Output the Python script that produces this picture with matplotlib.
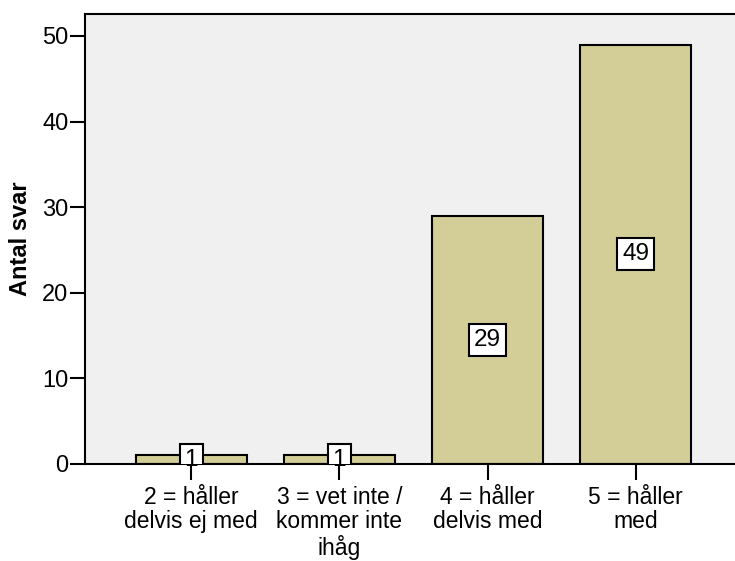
import matplotlib
matplotlib.use('Agg')
import matplotlib.pyplot as plt

categories = ["2 = håller\ndelvis ej med", "3 = vet inte /\nkommer inte\nihåg",
              "4 = håller\ndelvis med", "5 = håller\nmed"]
counts = [1, 1, 29, 49]
yticks = [0, 10, 20, 30, 40, 50]

plt.rcParams['font.family'] = ['Liberation Sans', 'DejaVu Sans']
fs = 17

fig = plt.figure(figsize=(7.35, 5.61), dpi=100)
ax = fig.add_axes([85 / 735, 97 / 561, 650 / 735, 450 / 561])
ax.set_facecolor('#F0F0F0')

x = list(range(len(categories)))
ax.bar(x, counts, width=0.75, color='#D3CE97', edgecolor='black', linewidth=1.5, zorder=2)

# count labels in white boxes, box clipped at the axis
for xi, v in zip(x, counts):
    t = ax.text(xi, v / 2, str(v), ha='center', va='center', fontsize=17.5, zorder=3,
                bbox=dict(boxstyle='square,pad=0.2', facecolor='white', edgecolor='black', linewidth=1.5))
    t.get_bbox_patch().set_clip_on(True)

ax.set_xlim(-0.716, 3.669)
ax.set_ylim(0, 52.57)
ax.set_xticks(x)
ax.set_xticklabels(categories, fontsize=16.5, linespacing=1.06)
ax.set_yticks(yticks)
ax.tick_params(axis='y', labelsize=fs, length=11, width=1.5, pad=1)
ax.tick_params(axis='x', length=11.5, width=1.5, pad=4.5)
ax.set_ylabel("Antal svar", fontsize=fs, fontweight='bold', labelpad=7)

for s in ['left', 'top', 'bottom']:
    ax.spines[s].set_linewidth(1.5)
ax.spines['right'].set_visible(False)

fig.savefig('out.png', dpi=100)
